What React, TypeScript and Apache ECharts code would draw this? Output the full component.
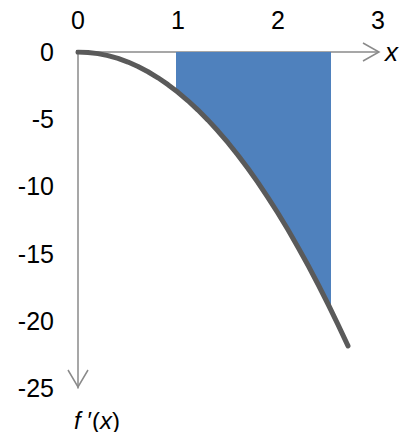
import React, { useEffect, useRef } from "react";
import * as echarts from "echarts";

const xValues = [0, 0.1, 0.2, 0.3, 0.4, 0.5, 0.6, 0.7, 0.8, 0.9, 1.0, 1.1, 1.2, 1.3, 1.4, 1.5, 1.6, 1.7, 1.8, 1.9, 2.0, 2.1, 2.2, 2.3, 2.4, 2.5, 2.6, 2.7];
const curveValues = [0, -0.03, -0.12, -0.27, -0.48, -0.75, -1.08, -1.47, -1.92, -2.43, -3.0, -3.63, -4.32, -5.07, -5.88, -6.75, -7.68, -8.67, -9.72, -10.83, -12.0, -13.23, -14.52, -15.87, -17.28, -18.75, -20.28, -21.87];
const shadeX = [0.98, 1.0, 1.1, 1.2, 1.3, 1.4, 1.5, 1.6, 1.7, 1.8, 1.9, 2.0, 2.1, 2.2, 2.3, 2.4, 2.5, 2.53];
const shadeY = [-2.88, -3.0, -3.63, -4.32, -5.07, -5.88, -6.75, -7.68, -8.67, -9.72, -10.83, -12.0, -13.23, -14.52, -15.87, -17.28, -18.75, -19.2];
const xTicks = [0, 1, 2, 3];
const yTicks = [0, -5, -10, -15, -20, -25];

const AXIS_COLOR = "#8a8a8a";
const FONT = "'Liberation Sans', Arial, sans-serif";

export default function App() {
  const ref = useRef<HTMLDivElement>(null);
  useEffect(() => {
    if (!ref.current) return;
    const chart = echarts.init(ref.current, null, { renderer: "svg" });
    const curve = xValues.map((x, i) => [x, curveValues[i]]);
    const shade = shadeX.map((x, i) => [x, shadeY[i]]);
    chart.setOption({
      animation: false,
      grid: { left: 78, top: 52, width: 300, height: 343, containLabel: false },
      xAxis: {
        type: "value",
        position: "top",
        min: xTicks[0],
        max: xTicks[xTicks.length - 1],
        interval: 1,
        axisLine: { show: true, onZero: true, lineStyle: { color: AXIS_COLOR, width: 1.5 } },
        axisTick: { show: false },
        splitLine: { show: false },
        axisLabel: { color: "#000", fontSize: 25, fontFamily: FONT, margin: 20 },
        name: "x",
        nameLocation: "end",
        nameGap: 7,
        nameTextStyle: { color: "#000", fontSize: 26, fontStyle: "italic", fontFamily: FONT, verticalAlign: "middle", padding: [6, 0, 0, 0] },
      },
      yAxis: {
        type: "value",
        min: yTicks[yTicks.length - 1],
        max: yTicks[0],
        interval: 5,
        axisLine: { show: true, onZero: false, lineStyle: { color: AXIS_COLOR, width: 1.5 } },
        axisTick: { show: false },
        splitLine: { show: false },
        axisLabel: { color: "#000", fontSize: 25, fontFamily: FONT, margin: 24 },
        name: "{i|f}{n| ′(}{i|x}{n|)}",
        nameLocation: "start",
        nameGap: 20,
        nameTextStyle: {
          align: "center",
          padding: [0, 0, 0, 38],
          rich: {
            i: { fontSize: 24, fontStyle: "italic", fontFamily: FONT, color: "#000" },
            n: { fontSize: 24, fontFamily: FONT, color: "#000" },
          },
        },
      },
      series: [
        {
          type: "line",
          data: shade,
          showSymbol: false,
          lineStyle: { width: 0 },
          areaStyle: { color: "#4F81BD", opacity: 1 },
          z: 1,
          silent: true,
        },
        {
          type: "line",
          data: curve,
          showSymbol: false,
          smooth: false,
          lineStyle: { color: "#5a5a5a", width: 5, cap: "round", join: "round" },
          z: 3,
          silent: true,
        },
      ],
    });
    const xEnd = chart.convertToPixel({ gridIndex: 0 }, [xTicks[xTicks.length - 1], 0]) as number[];
    const yEnd = chart.convertToPixel({ gridIndex: 0 }, [0, yTicks[yTicks.length - 1]]) as number[];
    const xe = [xEnd[0] + 1, xEnd[1]];
    const ye = [yEnd[0], yEnd[1] - 1];
    chart.setOption({
      graphic: [
        {
          type: "polyline",
          shape: { points: [[xe[0] - 16, xe[1] - 9], xe, [xe[0] - 16, xe[1] + 9]] },
          style: { stroke: AXIS_COLOR, lineWidth: 1.5, fill: "none" },
          z: 10,
        },
        {
          type: "polyline",
          shape: { points: [[ye[0] - 10, ye[1] - 17], ye, [ye[0] + 10, ye[1] - 17]] },
          style: { stroke: AXIS_COLOR, lineWidth: 1.5, fill: "none" },
          z: 10,
        },
      ],
    });
    return () => chart.dispose();
  }, []);
  return (
    <div
      ref={ref}
      style={{ position: "fixed", left: 0, top: 0, width: 404, height: 432, background: "#fff" }}
    />
  );
}
